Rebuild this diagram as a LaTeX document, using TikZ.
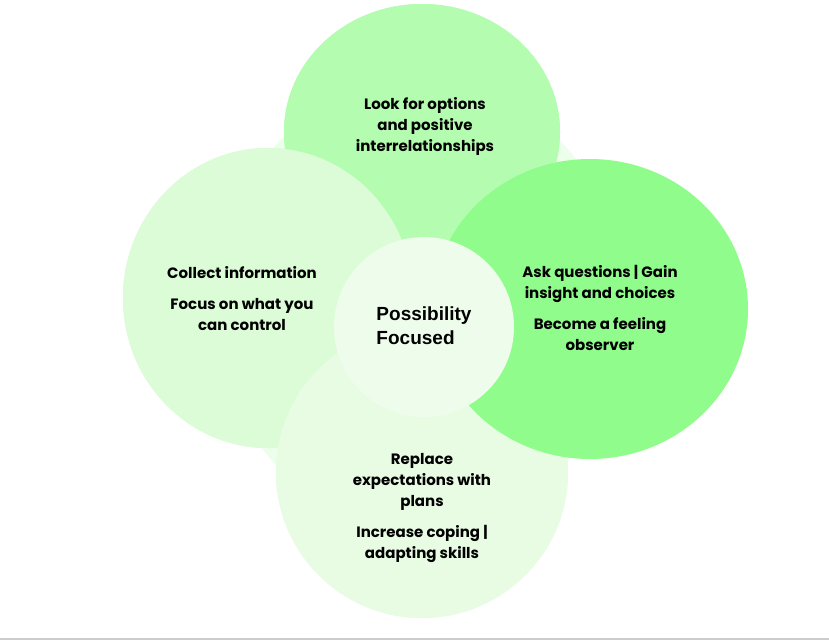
\documentclass[tikz,border=0pt]{standalone}
\usepackage{fontspec}
\setmainfont{Poppins}
\newfontfamily\arialb{Liberation Sans}
\begin{document}
\begin{tikzpicture}[x=1pt,y=-1pt,
  lbl/.style={align=center,font=\fontsize{15}{21}\selectfont\bfseries,text=black}]
\useasboundingbox (0,0) rectangle (829,644);
\fill[white] (0,0) rectangle (829,644);
\draw[gray!40,line width=1.5] (0,639) -- (829,639);
\fill[green!8] (420,305) ellipse (205 and 225);
\fill[green!30!white,fill=green!30] (422,132) ellipse (138 and 128) node (top) {};
\fill[fill={rgb,255:red,219;green,252;blue,214}] (268,298) ellipse (145 and 150) node (left) {};
\fill[fill={rgb,255:red,232;green,252;blue,228}] (422,472) ellipse (146 and 146) node (bot) {};
\fill[fill={rgb,255:red,180;green,252;blue,176}] (422,132) ellipse (138 and 128);
\fill[fill={rgb,255:red,219;green,252;blue,214}] (268,298) ellipse (145 and 150);
\fill[fill={rgb,255:red,232;green,252;blue,228}] (422,472) ellipse (146 and 146);
\fill[fill={rgb,255:red,144;green,252;blue,140}] (590,309) ellipse (158 and 150) node (right) {};
\fill[fill={rgb,255:red,238;green,253;blue,235}] (424,327) circle (90) node (ctr) {};
\node[lbl] (tt) at (425,126) {Look for options\\and positive\\interrelationships};
\node[lbl] (lt) at (242,299) {Collect information\\[10pt]Focus on what you\\can control};
\node[lbl] (rt) at (600,308) {Ask questions | Gain\\insight and choices\\[10pt]Become a feeling\\observer};
\node[lbl] (bt) at (422,508) {Replace\\expectations with\\plans\\[10pt]Increase coping |\\adapting skills};
\node[align=left,font=\arialb\fontsize{19}{24}\selectfont\bfseries] (ct) at (424,326) {Possibility\\Focused};
\end{tikzpicture}
\end{document}
